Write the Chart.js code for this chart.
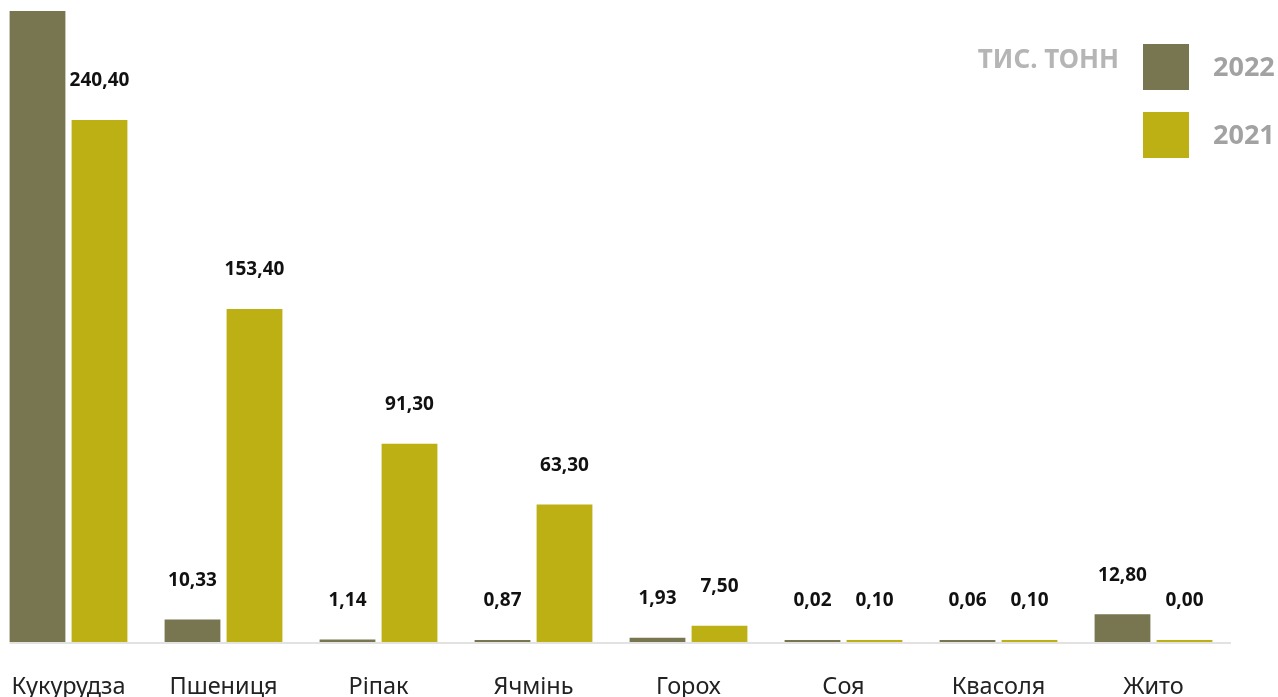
<!DOCTYPE html>
<html>
<head>
<meta charset="utf-8">
<script src="https://cdn.jsdelivr.net/npm/chart.js@4"></script>
<style>
  html, body { margin: 0; padding: 0; background: #fff; overflow: hidden; }
  #wrap { position: absolute; left: -9px; top: 0; width: 1287px; height: 697px; }
</style>
</head>
<body>
<div id="wrap"><canvas id="c"></canvas></div>
<script>
const categories = ['Кукурудза', 'Пшениця', 'Ріпак', 'Ячмінь', 'Горох', 'Соя', 'Квасоля', 'Жито'];
const values2022 = [420.0, 10.33, 1.14, 0.87, 1.93, 0.02, 0.06, 12.80];
const values2021 = [240.40, 153.40, 91.30, 63.30, 7.50, 0.10, 0.10, 0.00];
const seriesNames = ['2022', '2021'];
const unitLabel = 'тис. тонн';
const yMax = 290.6;

const colors = ['#787651', '#bcb015'];

const fmt = v => v.toFixed(2).replace('.', ',');

const baseLine = {
  id: 'baseLine',
  beforeDatasetsDraw(chart) {
    const ctx = chart.ctx, a = chart.chartArea;
    const first = chart.getDatasetMeta(0).data[0];
    ctx.save();
    ctx.strokeStyle = '#e2e2e2';
    ctx.lineWidth = 2;
    ctx.beginPath();
    ctx.moveTo(first.x - first.width / 2, a.bottom + 1);
    ctx.lineTo(a.right, a.bottom + 1);
    ctx.stroke();
    ctx.restore();
  }
};

const valueLabels = {
  id: 'valueLabels',
  afterDatasetsDraw(chart) {
    const ctx = chart.ctx;
    ctx.save();
    ctx.font = 'bold 19px "Noto Sans"';
    ctx.fillStyle = '#111';
    ctx.textAlign = 'center';
    ctx.textBaseline = 'middle';
    chart.data.datasets.forEach((ds, di) => {
      chart.getDatasetMeta(di).data.forEach((bar, i) => {
        ctx.fillText(fmt(ds.data[i]), bar.x, bar.y - 39);
      });
    });
    ctx.restore();
  }
};

const customLegend = {
  id: 'customLegend',
  afterDraw(chart) {
    const ctx = chart.ctx;
    const off = 9;
    ctx.save();
    ctx.textBaseline = 'middle';
    ctx.textAlign = 'right';
    ctx.font = 'bold 26px "Noto Sans"';
    ctx.fillStyle = '#b5b5b5';
    ctx.fillText(unitLabel.toUpperCase(), 1119 + off, 61);
    chart.data.datasets.forEach((ds, i) => {
      const y = 44 + i * 68;
      ctx.fillStyle = ds.backgroundColor;
      ctx.fillRect(1143 + off, y, 46, 46);
      ctx.textAlign = 'left';
      ctx.font = 'bold 27px "Noto Sans"';
      ctx.fillStyle = '#a2a2a2';
      ctx.fillText(ds.label, 1213 + off, y + 24);
    });
    ctx.restore();
  }
};

new Chart(document.getElementById('c'), {
  type: 'bar',
  data: {
    labels: categories,
    datasets: [
      { label: seriesNames[0], data: values2022, backgroundColor: colors[0], clip: 0, minBarLength: 2 },
      { label: seriesNames[1], data: values2021, backgroundColor: colors[1], clip: 0, minBarLength: 2 }
    ]
  },
  options: {
    responsive: true,
    maintainAspectRatio: false,
    animation: false,
    events: [],
    layout: { padding: { top: 11, right: 47, left: 0, bottom: 0 } },
    plugins: { legend: { display: false }, tooltip: { enabled: false } },
    datasets: { bar: { categoryPercentage: 0.8, barPercentage: 0.9 } },
    scales: {
      x: {
        grid: { display: false, drawTicks: true, tickLength: 31 },
        border: { display: false },
        ticks: { color: '#222', font: { family: 'Noto Sans', size: 23.5 }, padding: 0, maxRotation: 0, autoSkip: false },
        afterFit(scale) { scale.height = 55; }
      },
      y: { display: false, min: 0, max: yMax }
    }
  },
  plugins: [baseLine, valueLabels, customLegend]
});
</script>
</body>
</html>
